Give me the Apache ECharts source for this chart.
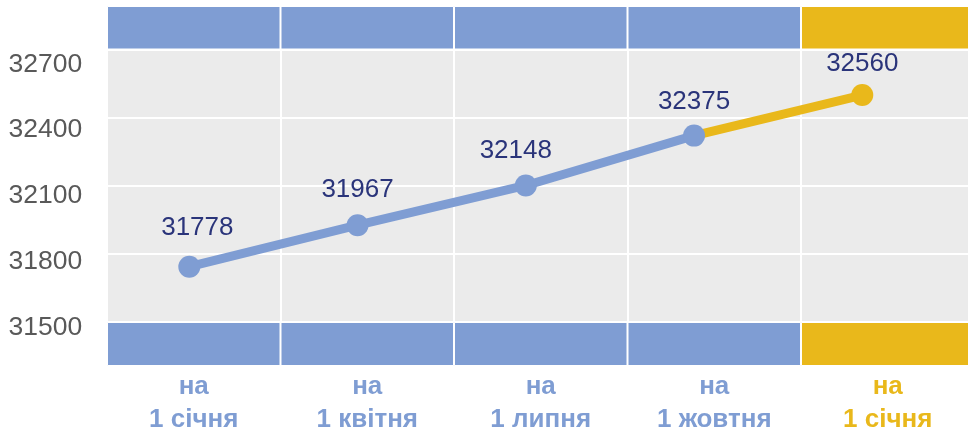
<!DOCTYPE html>
<html>
<head>
<meta charset="utf-8">
<script src="https://cdn.jsdelivr.net/npm/echarts@6/dist/echarts.min.js"></script>
<style>
html,body{margin:0;padding:0;background:#fff;}
#c{width:968px;height:432px;}
</style>
</head>
<body>
<div id="c"></div>
<script>
// ---- data ----
const categories = ['на\n1 січня', 'на\n1 квітня', 'на\n1 липня', 'на\n1 жовтня', 'на\n1 січня'];
const values = [31778, 31967, 32148, 32375, 32560];
const forecastFrom = 3; // index where the yellow (forecast) segment starts
const yTickLabels = [31500, 31800, 32100, 32400, 32700];

// ---- styles ----
const BLUE = '#7f9dd3';
const YELLOW = '#e9b81b';
const GRAY = '#ebebeb';
const NAVY = '#2a347a';
const FONT = 'Liberation Sans, Arial, sans-serif';

const lastIdx = values.length - 1;
const isForecast = i => i === lastIdx;

// label offsets (label styling only)
const labelOffsets = [[8, -39], [0, -35], [-10, -35], [0, -34], [0, -31]];

const blueData = values.map((v, i) => i <= forecastFrom ? {
  value: v,
  label: {show: true, offset: labelOffsets[i]}
} : null);
const yellowData = values.map((v, i) => {
  if (i < forecastFrom) return null;
  if (i === forecastFrom) return {value: v, symbol: 'none', label: {show: false}};
  return {value: v, label: {show: true, offset: labelOffsets[i]}};
});

const ones = categories.map(() => 1);
const bandData = ones.map((v, i) => ({value: v, itemStyle: {color: isForecast(i) ? YELLOW : BLUE}}));

const BW = 867.5; // backdrop width (extends past the right edge)
const G = {outerBoundsMode: 'none', containLabel: false};

const option = {
  animation: false,
  backgroundColor: '#fff',
  grid: [
    Object.assign({left: 107, width: BW, top: 6, height: 360, show: true, backgroundColor: GRAY, borderWidth: 0}, G),
    Object.assign({left: 107, width: BW, top: 49.5, height: 272.5, show: false}, G),
    Object.assign({left: 107, width: BW, top: 6, height: 43.5, show: false}, G),
    Object.assign({left: 107, width: BW, top: 322, height: 44, show: false}, G),
    Object.assign({left: 105.2, right: 21.6, top: -1.6, bottom: 38.4, show: false}, G)
  ],
  xAxis: [
    {
      gridIndex: 0, type: 'category', data: categories, boundaryGap: true,
      axisLine: {show: false}, axisTick: {show: false},
      splitLine: {show: true, interval: 0, lineStyle: {color: '#fff', width: 2}},
      axisLabel: {
        interval: 0, margin: 5, fontFamily: FONT, fontSize: 26, fontWeight: 'bold', lineHeight: 32.5,
        color: (v, i) => isForecast(i) ? YELLOW : BLUE
      },
      z: 1
    },
    {gridIndex: 1, type: 'category', data: categories, show: false},
    {gridIndex: 2, type: 'category', data: categories, show: false},
    {gridIndex: 3, type: 'category', data: categories, show: false},
    {gridIndex: 4, type: 'category', data: categories, boundaryGap: true, show: false}
  ],
  yAxis: [
    {gridIndex: 0, type: 'value', min: 0, max: 1, show: false},
    {
      gridIndex: 1, type: 'value', min: 0, max: 4, interval: 1,
      axisLine: {show: false}, axisTick: {show: false}, axisLabel: {show: false},
      splitLine: {show: true, lineStyle: {color: '#fff', width: 2}}, z: 1
    },
    {gridIndex: 2, type: 'value', min: 0, max: 1, show: false},
    {gridIndex: 3, type: 'value', min: 0, max: 1, show: false},
    {
      gridIndex: 4, type: 'value', min: 31200, max: 33000, interval: 300,
      axisLine: {show: false}, axisTick: {show: false}, splitLine: {show: false},
      axisLabel: {
        margin: 23, fontFamily: FONT, fontSize: 26.5, color: '#595959',
        padding: [5, 0, 0, 0],
        formatter: v => yTickLabels.indexOf(v) >= 0 ? String(v) : ''
      }
    }
  ],
  series: [
    {
      type: 'bar', xAxisIndex: 2, yAxisIndex: 2, data: bandData, barCategoryGap: '0%',
      itemStyle: {borderColor: '#fff', borderWidth: 1}, silent: true, z: 3
    },
    {
      type: 'bar', xAxisIndex: 3, yAxisIndex: 3, data: bandData, barCategoryGap: '0%',
      itemStyle: {borderColor: '#fff', borderWidth: 1}, silent: true, z: 3
    },
    {
      type: 'line', xAxisIndex: 4, yAxisIndex: 4, data: yellowData, z: 10,
      symbol: 'circle', symbolSize: 22,
      lineStyle: {color: YELLOW, width: 9}, itemStyle: {color: YELLOW},
      label: {position: 'inside', fontFamily: FONT, fontSize: 26, color: NAVY}
    },
    {
      type: 'line', xAxisIndex: 4, yAxisIndex: 4, data: blueData, z: 11,
      symbol: 'circle', symbolSize: 22,
      lineStyle: {color: BLUE, width: 9}, itemStyle: {color: BLUE},
      label: {position: 'inside', fontFamily: FONT, fontSize: 26, color: NAVY}
    }
  ]
};

const chart = echarts.init(document.getElementById('c'), null, {renderer: 'canvas'});
chart.setOption(option);
</script>
</body>
</html>
